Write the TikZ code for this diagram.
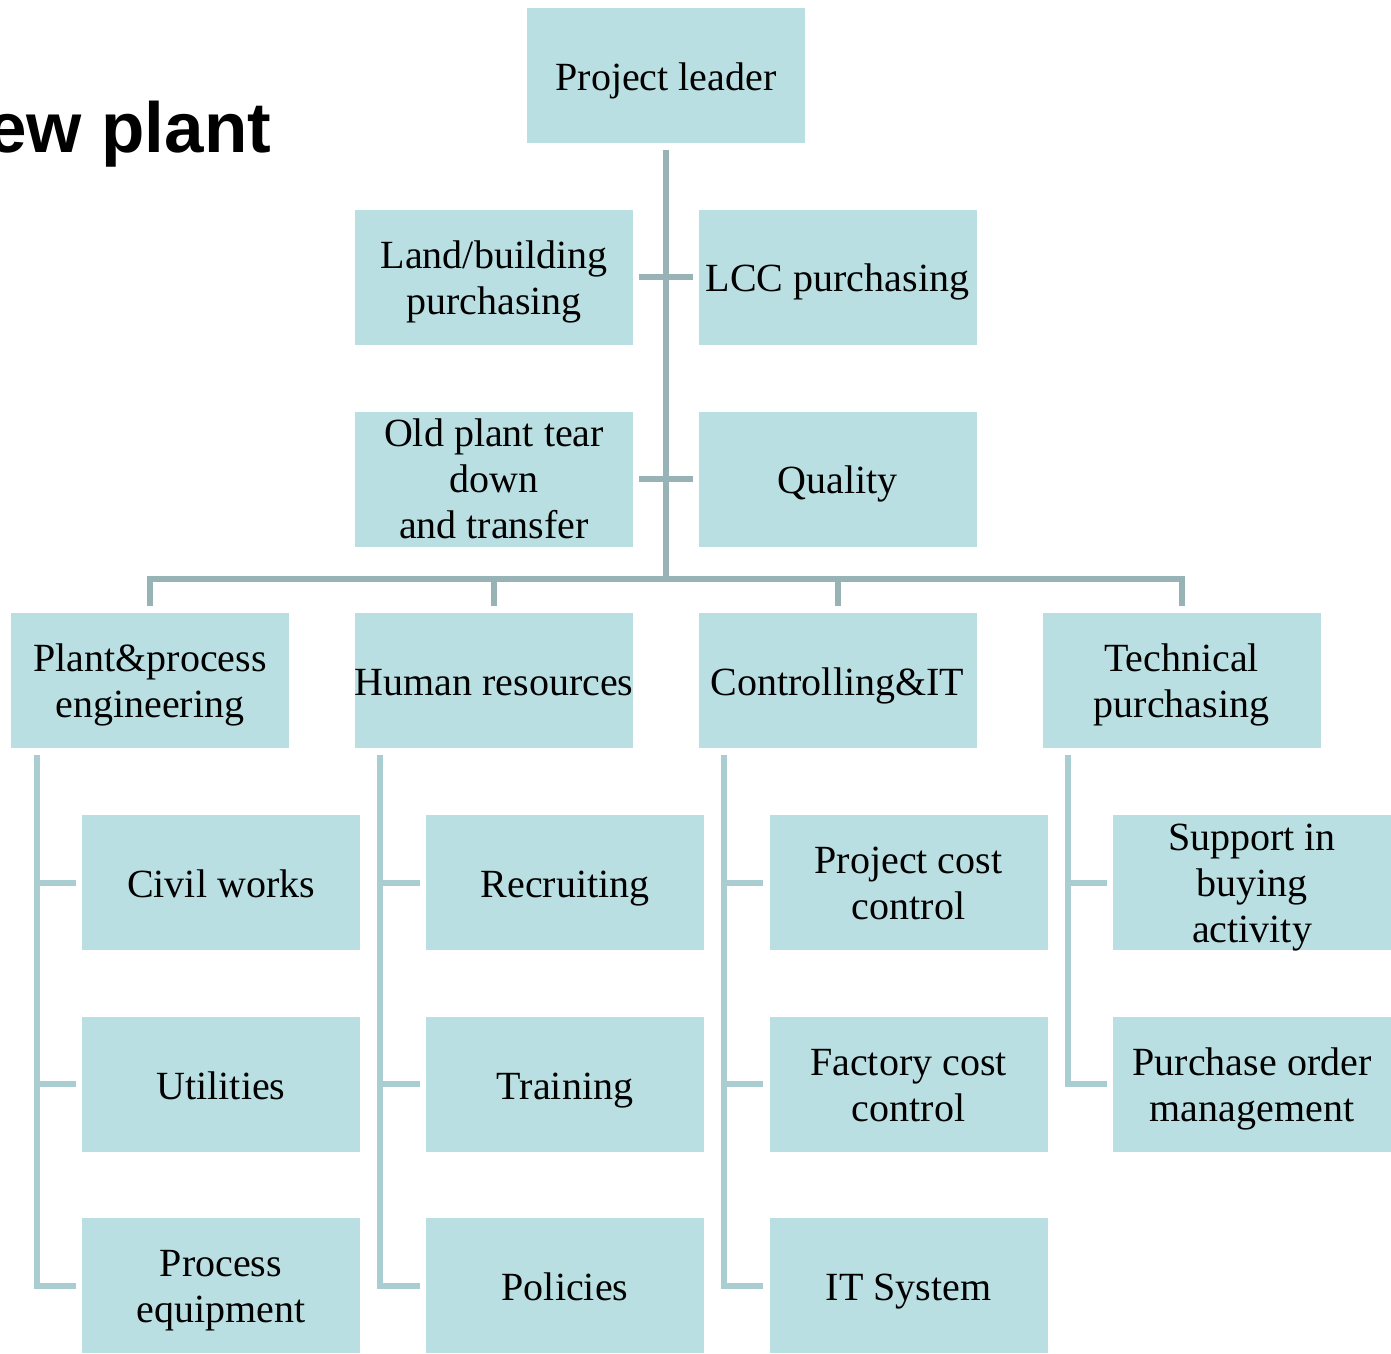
\documentclass[tikz,border=0pt]{standalone}
\usepackage{fontspec}
\setmainfont{Liberation Serif}
\newfontfamily\titlefont{Liberation Sans}
\definecolor{boxfill}{HTML}{BADFE2}
\definecolor{trunkline}{HTML}{97B3B6}
\definecolor{branchline}{HTML}{A9CDD0}
% line struts giving every box the same vertical centring
\newcommand\unitstrut{\rule[-8.6pt]{0pt}{47.2pt}}
\newcommand\firststrut{\rule{0pt}{37.3pt}}
% three-line boxes keep their 135pt height, text may run past the edge
\newcommand\tallstrut{\rule{0pt}{35.3pt}}
\newcommand\laststrut{\rule[-7.7pt]{0pt}{7.7pt}}
\begin{document}
\begin{tikzpicture}[x=1pt,y=-1pt,
  unitbox/.style={fill=boxfill, draw=none, minimum width=278pt, minimum height=135pt,
    inner sep=0pt, align=center, font=\fontsize{40}{46}\selectfont},
  unit/.style={unitbox, execute at begin node=\unitstrut, execute at end node=\unitstrut},
  trunk/.style={draw=trunkline, line width=6pt},
  branch/.style={draw=branchline, line width=6pt}]
\useasboundingbox (0,0) rectangle (1391,1353);

% heading
\node[anchor=base west, inner sep=0pt, font=\titlefont\bfseries\fontsize{71}{80}\selectfont]
  (title) at (-13,152) {ew plant};

% top level and staff units
\node[unit] (pl)   at (666,75.5)  {Project leader};
\node[unit] (land) at (494,277)   {\firststrut Land/building\\purchasing};
\node[unit] (lcc)  at (837.5,277) {LCC purchasing};
\node[unitbox] (old) at (494,479) {\tallstrut Old plant tear\\down\\and transfer\laststrut};
\node[unit] (qual) at (837.5,479) {Quality};

% departments
\node[unit] (ppe) at (150,680.5)    {\firststrut Plant\&process\\engineering};
\node[unit] (hr)  at (494,680.5)    {Human resources};
\node[unit] (cit) at (837.5,680.5)  {Controlling\&IT};
\node[unit] (tp)  at (1181.5,680.5) {\firststrut Technical\\purchasing};

% sub-units
\node[unit] (cw)  at (221,882.5)    {Civil works};
\node[unit] (ut)  at (221,1084)     {Utilities};
\node[unit] (pe)  at (221,1285.5)   {\firststrut Process\\equipment};
\node[unit] (rec) at (565,882.5)    {Recruiting};
\node[unit] (tr)  at (565,1084)     {Training};
\node[unit] (pol) at (565,1285.5)   {Policies};
\node[unit] (pcc) at (908.5,882.5)  {\firststrut Project cost\\control};
\node[unit] (fcc) at (908.5,1084)   {\firststrut Factory cost\\control};
\node[unit] (its) at (908.5,1285.5) {IT System};
\node[unitbox] (sba) at (1252,882.5) {\tallstrut Support in\\buying\\\smash{activity}\laststrut};
\node[unit] (pom) at (1252,1084)    {\firststrut Purchase order\\management};

% main trunk and staff bars
\coordinate (bus) at (666,579);
\draw[trunk] ([yshift=-7pt]pl.south) -- (bus);
\draw[trunk] ([xshift=6pt]land.east) -- ([xshift=-5pt]lcc.west);
\draw[trunk] ([xshift=6pt]old.east) -- ([xshift=-5pt]qual.west);

% department bus
\draw[trunk] ([yshift=7pt]ppe.north) -- (ppe.north |- bus) -- (tp.north |- bus) -- ([yshift=7pt]tp.north);
\draw[trunk] (hr.north |- bus) -- ([yshift=7pt]hr.north);
\draw[trunk] (cit.north |- bus) -- ([yshift=7pt]cit.north);

% department branches
\foreach \d/\last/\a/\b in {ppe/pe/cw/ut, hr/pol/rec/tr, cit/its/pcc/fcc} {
  \coordinate (\d-rail) at ([xshift=26pt,yshift=-7pt]\d.south west);
  \draw[branch] (\d-rail) |- ([xshift=-6pt]\last.west);
  \draw[branch] (\d-rail |- \a.west) -- ([xshift=-6pt]\a.west);
  \draw[branch] (\d-rail |- \b.west) -- ([xshift=-6pt]\b.west);
}
\coordinate (tp-rail) at ([xshift=26pt,yshift=-7pt]tp.south west);
\draw[branch] (tp-rail) |- ([xshift=-6pt]pom.west);
\draw[branch] (tp-rail |- sba.west) -- ([xshift=-6pt]sba.west);
\end{tikzpicture}
\end{document}
